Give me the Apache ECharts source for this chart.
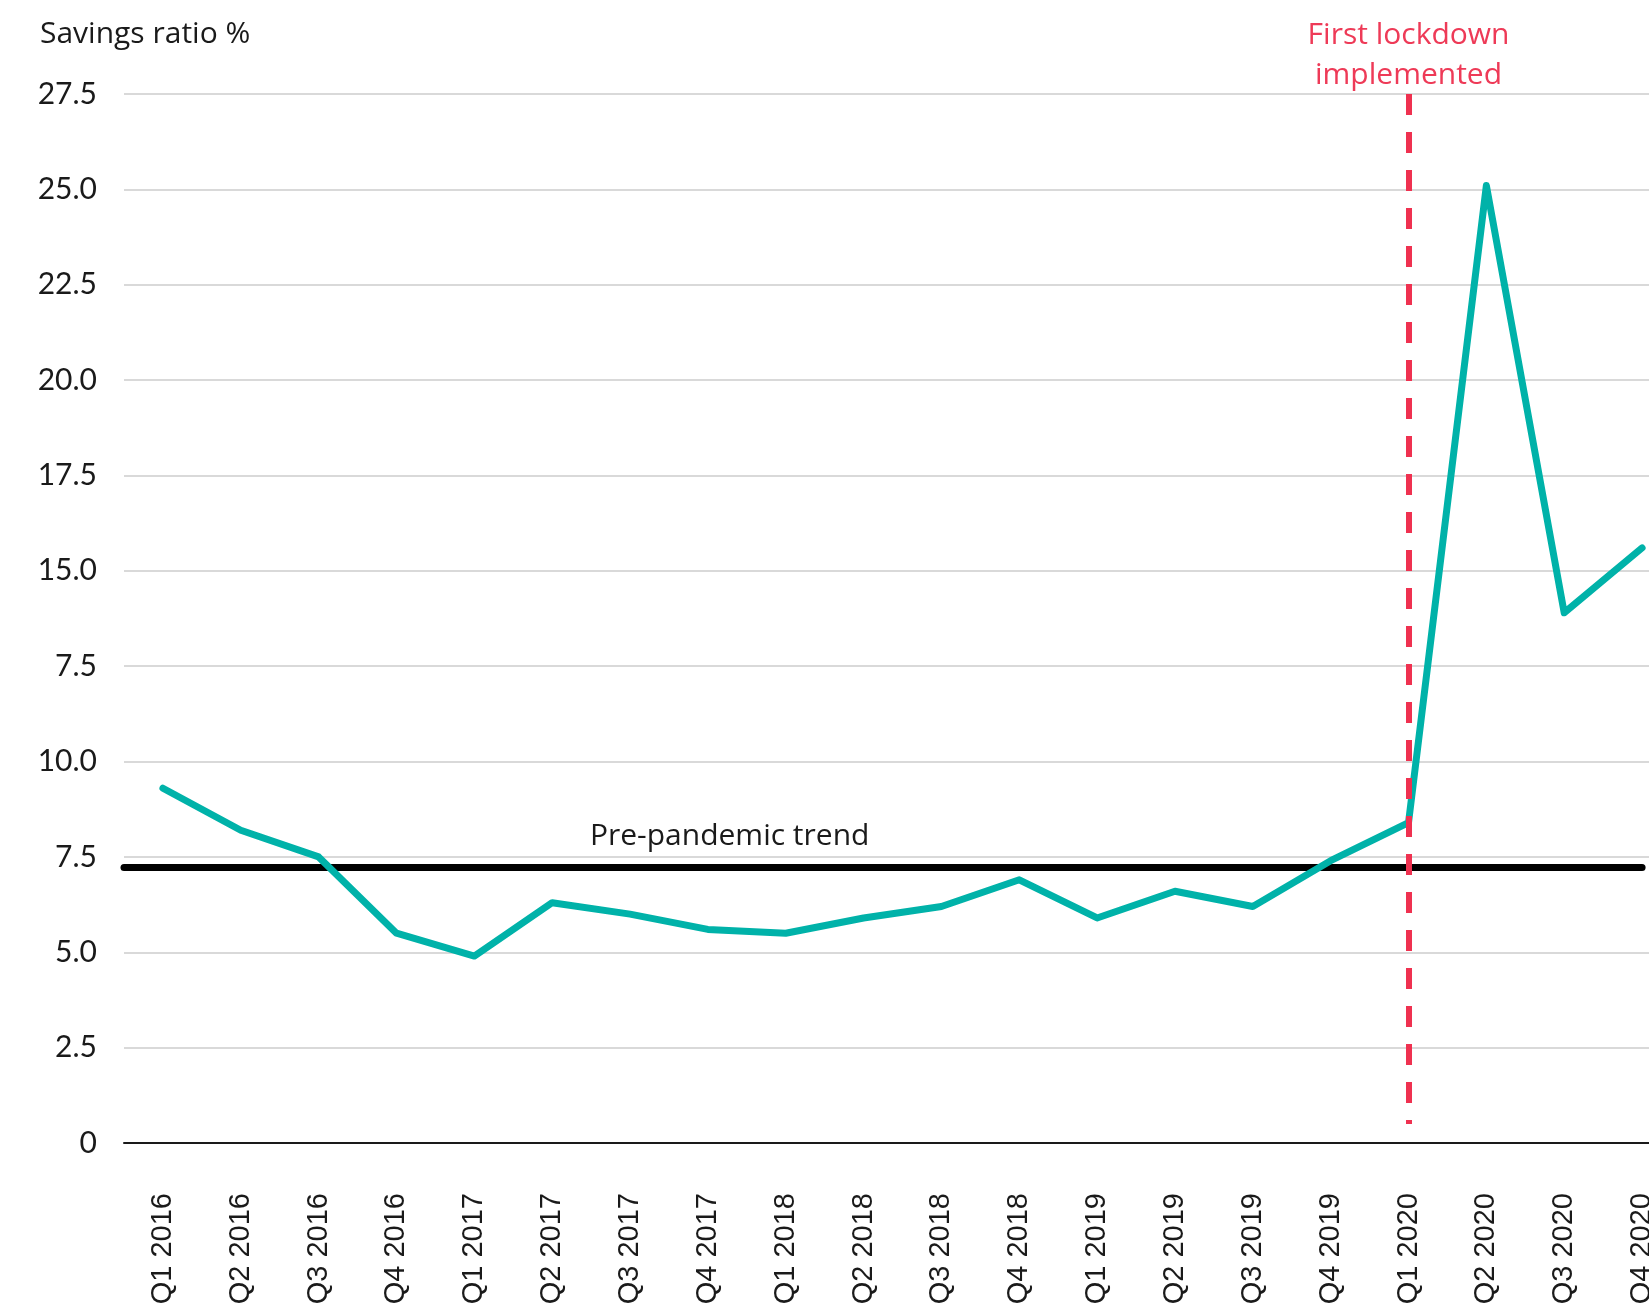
<!DOCTYPE html>
<html>
<head>
<meta charset="utf-8">
<title>Savings ratio</title>
<script src="https://cdn.jsdelivr.net/npm/echarts@6/dist/echarts.min.js"></script>
<style>
  html, body { margin: 0; padding: 0; background: #ffffff; }
  #chart { width: 1649px; height: 1310px; }
</style>
</head>
<body>
<div id="chart"></div>
<script>
// Quarterly categories
const quarters = [
  'Q1 2016', 'Q2 2016', 'Q3 2016', 'Q4 2016',
  'Q1 2017', 'Q2 2017', 'Q3 2017', 'Q4 2017',
  'Q1 2018', 'Q2 2018', 'Q3 2018', 'Q4 2018',
  'Q1 2019', 'Q2 2019', 'Q3 2019', 'Q4 2019',
  'Q1 2020', 'Q2 2020', 'Q3 2020', 'Q4 2020'
];

// Household savings ratio, %
const savingsRatio = [
  9.3, 8.2, 7.5, 5.5,
  4.9, 6.3, 6.0, 5.6,
  5.5, 5.9, 6.2, 6.9,
  5.9, 6.6, 6.2, 7.4,
  8.4, 25.1, 13.9, 15.6
];

// Pre-pandemic trend level, %
const trendLevel = 7.22;

// Y-axis tick labels, bottom to top
const yTickLabels = ['0', '2.5', '5.0', '7.5', '10.0', '7.5', '15.0', '17.5', '20.0', '22.5', '25.0', '27.5'];

// Lockdown marker
const lockdownQuarter = 'Q1 2020';
const lockdownText = 'First lockdown\nimplemented';
const trendText = 'Pre-pandemic trend';

const TEXT_FONT = '"Open Sans", Lato, sans-serif';
const NUM_FONT = 'Lato, "Open Sans", sans-serif';
const TICK_FONT = '"Liberation Sans", Arial, sans-serif';

const chart = echarts.init(document.getElementById('chart'), null, { renderer: 'canvas' });

const n = quarters.length;

chart.setOption({
  backgroundColor: '#ffffff',
  animation: false,
  title: {
    text: 'Savings ratio %',
    left: 35,
    top: 14,
    textStyle: { fontFamily: TEXT_FONT, fontSize: 30, fontWeight: 'normal', color: '#1a1a1a' }
  },
  grid: { left: 124, top: 94, width: 1557, height: 1049, outerBoundsMode: 'none', containLabel: false },
  xAxis: [
    {
      type: 'category',
      data: quarters,
      boundaryGap: true,
      axisLine: { show: true, lineStyle: { color: '#1a1a1a', width: 2 } },
      axisTick: { show: false },
      splitLine: { show: false },
      axisLabel: {
        interval: 0,
        rotate: 90,
        margin: 50,
        fontFamily: TICK_FONT,
        fontSize: 29,
        color: '#1a1a1a'
      }
    },
    {
      // companion numeric axis spanning the same bands, used for the trend line
      type: 'value',
      min: -0.5,
      max: n - 0.5,
      show: false
    }
  ],
  yAxis: {
    type: 'value',
    min: 0,
    max: 27.5,
    interval: 2.5,
    axisLine: { show: false },
    axisTick: { show: false },
    splitLine: { show: true, lineStyle: { color: '#d9d9d9', width: 2 } },
    axisLabel: {
      margin: 27,
      fontFamily: NUM_FONT,
      fontSize: 30,
      color: '#1a1a1a',
      formatter: (v) => yTickLabels[Math.round(v / 2.5)]
    }
  },
  series: [
    {
      name: 'Pre-pandemic trend',
      type: 'line',
      xAxisIndex: 1,
      data: [[-0.5, trendLevel], [n - 1, trendLevel]],
      symbol: 'none',
      z: 2,
      lineStyle: { color: '#000000', width: 7, cap: 'round' },
      markPoint: {
        symbol: 'circle',
        symbolSize: 0,
        data: [{ coord: [7.28, trendLevel] }],
        label: {
          show: true,
          position: 'top',
          distance: 16,
          formatter: trendText,
          fontFamily: TEXT_FONT,
          fontSize: 30,
          color: '#1a1a1a'
        }
      }
    },
    {
      name: 'Savings ratio',
      type: 'line',
      data: savingsRatio,
      symbol: 'none',
      z: 3,
      lineStyle: { color: '#00b2a9', width: 7, cap: 'round', join: 'round' },
      markLine: {
        silent: true,
        symbol: ['none', 'none'],
        z: 5,
        lineStyle: { color: '#ef3150', width: 6, type: [21, 17] },
        label: {
          show: true,
          position: 'start',
          distance: -1,
          formatter: lockdownText,
          fontFamily: TEXT_FONT,
          fontSize: 30,
          lineHeight: 40,
          color: '#ee3a57'
        },
        data: [[
          { coord: [lockdownQuarter, 27.5] },
          { coord: [lockdownQuarter, 0.5] }
        ]]
      }
    }
  ]
});
</script>
</body>
</html>
